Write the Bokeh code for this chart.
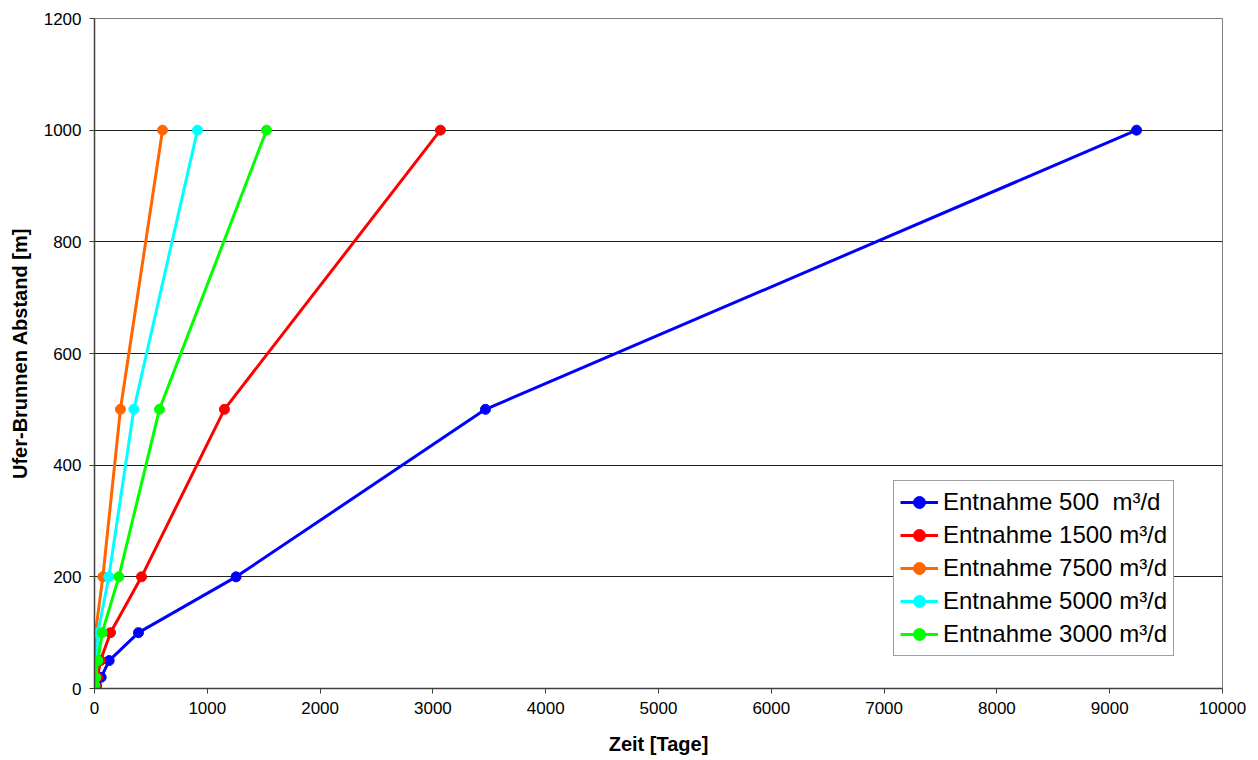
from bokeh.plotting import figure
from bokeh.models import Range1d, FixedTicker, Legend, LegendItem
from bokeh.embed import file_html
from bokeh.resources import INLINE

# Data
distance = [5, 20, 50, 100, 200, 500, 1000]
t_500 = [18, 59, 130, 390, 1255, 3466, 9238]
t_1500 = [9, 27, 53, 142, 417, 1152, 3067]
t_7500 = [1, 3, 7, 9, 74, 230, 603]
t_5000 = [2, 8, 24, 30, 127, 349, 913]
t_3000 = [3, 9, 30, 68, 216, 576, 1525]

series_names = ["Entnahme 500  m³/d", "Entnahme 1500 m³/d", "Entnahme 7500 m³/d",
                "Entnahme 5000 m³/d", "Entnahme 3000 m³/d"]
series_values = [t_500, t_1500, t_7500, t_5000, t_3000]
series_colors = ["#0000FF", "#FF0000", "#FF6600", "#00FFFF", "#00FF00"]

x_ticks = list(range(0, 10001, 1000))
y_ticks = list(range(0, 1201, 200))

FONT = "Liberation Sans"

p = figure(width=1250, height=758, output_backend="svg", toolbar_location=None,
           x_range=Range1d(0, 10000), y_range=Range1d(0, 1200),
           min_border_left=94, min_border_right=28, min_border_top=18, min_border_bottom=70)

p.background_fill_color = "white"
p.border_fill_color = "white"
p.outline_line_color = "#808080"
p.outline_line_width = 1

p.xgrid.grid_line_color = None
p.ygrid.grid_line_color = "#202020"
p.ygrid.grid_line_width = 1

p.xaxis.ticker = FixedTicker(ticks=x_ticks)
p.yaxis.ticker = FixedTicker(ticks=y_ticks)

for ax in (p.xaxis[0], p.yaxis[0]):
    ax.axis_line_color = "#404040"
    ax.axis_line_width = 1.5
    ax.major_tick_line_color = "#404040"
    ax.major_tick_out = 5
    ax.major_tick_in = 0
    ax.minor_tick_line_color = None
    ax.major_label_text_font = FONT
    ax.major_label_text_font_size = "17px"
    ax.major_label_text_color = "black"
    ax.major_label_standoff = 8
    ax.axis_label_text_font = FONT
    ax.axis_label_text_font_size = "20px"
    ax.axis_label_text_font_style = "bold"
    ax.axis_label_text_color = "black"
    ax.axis_label_standoff = 10

p.xaxis[0].axis_label_standoff = 16
p.xaxis.axis_label = "Zeit [Tage]"
p.yaxis.axis_label = "Ufer-Brunnen Abstand [m]"

items = []
for name, vals, col in zip(series_names, series_values, series_colors):
    r1 = p.line(vals, distance, line_color=col, line_width=3)
    r2 = p.scatter(vals, distance, marker="circle", size=10, fill_color=col, line_color=col)
    items.append(LegendItem(label=name, renderers=[r1, r2]))

legend = Legend(items=items, location=(799, 32))
legend.label_text_font = FONT
legend.label_text_font_size = "24px"
legend.label_text_color = "black"
legend.glyph_width = 38
legend.glyph_height = 30
legend.label_height = 30
legend.label_standoff = 5
legend.spacing = 3
legend.padding = 6
legend.margin = 0
legend.border_line_color = "#404040"
legend.border_line_width = 1
legend.background_fill_color = "white"
legend.background_fill_alpha = 1
p.add_layout(legend, "center")

open("out.html", "w").write(file_html(p, INLINE))
